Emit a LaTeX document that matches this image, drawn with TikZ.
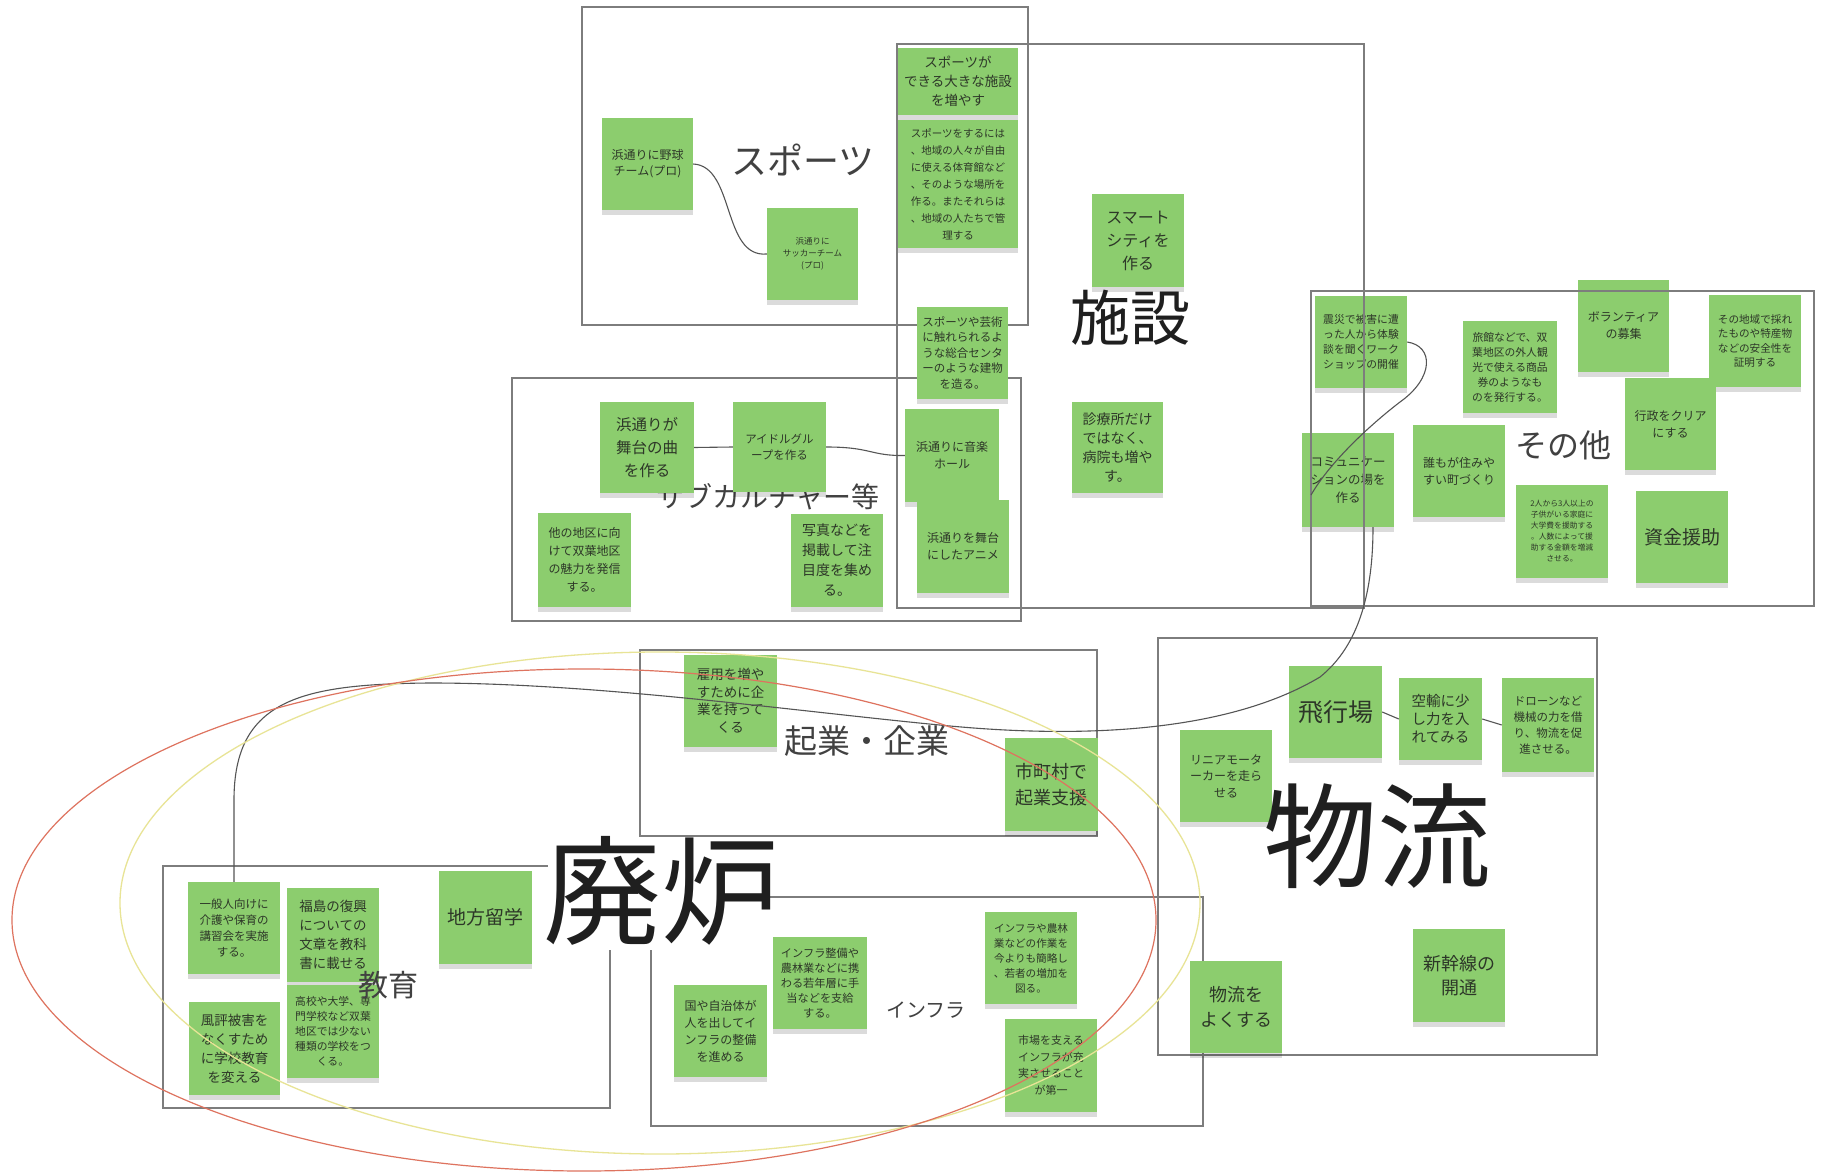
\documentclass[tikz,border=0pt]{standalone}
\usepackage{fontspec}
\setmainfont{Noto Sans CJK JP}
\usetikzlibrary{shadows}
\definecolor{notegreen}{RGB}{140,205,110}
\definecolor{notetext}{RGB}{45,55,40}
\definecolor{framegray}{RGB}{125,125,125}
\definecolor{linkgray}{RGB}{85,85,85}
\definecolor{ellred}{RGB}{222,115,95}
\definecolor{ellyellow}{RGB}{232,228,150}
\definecolor{labelgray}{RGB}{65,65,65}
\newcommand\nfs[2]{\fontsize{#1}{#2}\selectfont}
\begin{document}
\begin{tikzpicture}[x=1pt,y=-1pt,
 note/.style={fill=notegreen, inner sep=0pt, align=center, text=notetext,
   minimum width=92pt, minimum height=92pt,
   drop shadow={shadow xshift=0pt, shadow yshift=-5pt, fill=black, opacity=0.14}},
 frame/.style={draw=framegray, line width=1.3pt},
 link/.style={draw=linkgray, line width=1.1pt},
 lab/.style={inner sep=0pt, text=labelgray},
 biglab/.style={inner sep=0pt, text=black!88},
]
\useasboundingbox[fill=white] (0,0) rectangle (1826,1174);

% frames below notes
\draw[frame] (582,7) rectangle (1028,325);
\draw[frame] (512,378) rectangle (1021,621);
\draw[frame] (640,650) rectangle (1097,836);
\draw[frame] (651,897) rectangle (1203,1126);
\draw[frame] (163,866) rectangle (610,1108);
\draw[frame] (1158,638) rectangle (1597,1055);

% white backing of the big label (hides frame lines behind it)
\fill[white] (548,846) rectangle (770,950);

% label under notes
\node[lab, font=\nfs{28}{32}] (Lsub) at (768,497) {サブカルチャー等};

% ---- sports
\node[note, minimum width=91pt, font=\nfs{12}{16}] (N1) at (647.5,164) {浜通りに野球\\チーム(プロ)};
\node[note, minimum width=91pt, font=\nfs{8.5}{12}] (N2) at (812.5,254) {浜通りに\\サッカーチーム\\(プロ)};
\node[note, minimum width=120pt, minimum height=67pt, font=\nfs{13.5}{19}] (N3) at (958,81.5) {スポーツが\\できる大きな施設\\を増やす};
\node[note, minimum width=120pt, minimum height=128pt, font=\nfs{10.5}{17}] (N4) at (958,184) {スポーツをするには\\、地域の人々が自由\\に使える体育館など\\、そのような場所を\\作る。またそれらは\\、地域の人たちで管\\理する};
\node[note, minimum width=91pt, font=\nfs{11.5}{15.5}] (N5) at (962.5,353) {スポーツや芸術\\に触れられるよ\\うな総合センタ\\ーのような建物\\を造る。};
\node[note, minimum height=93pt, font=\nfs{16}{23}] (N6) at (1138,240.5) {スマート\\シティを\\作る};
\node[note, minimum width=91pt, minimum height=91pt, font=\nfs{14}{19}] (N7) at (1117.5,447.5) {診療所だけ\\ではなく、\\病院も増や\\す。};
% ---- subculture
\node[note, minimum width=94pt, minimum height=91pt, font=\nfs{15.5}{23}] (N8) at (647,447.5) {浜通りが\\舞台の曲\\を作る};
\node[note, minimum width=93pt, minimum height=90pt, font=\nfs{11.5}{16}] (N9) at (779.5,447) {アイドルグル\\ープを作る};
\node[note, minimum width=94pt, minimum height=93pt, font=\nfs{12}{17}] (N10) at (952,455.5) {浜通りに音楽\\ホール};
\node[note, minimum height=93pt, font=\nfs{12}{17}] (N11) at (963,546.5) {浜通りを舞台\\にしたアニメ};
\node[note, minimum width=93pt, minimum height=94pt, font=\nfs{12}{18}] (N12) at (584.5,560) {他の地区に向\\けて双葉地区\\の魅力を発信\\する。};
\node[note, minimum height=93pt, font=\nfs{14}{20}] (N13) at (837,560.5) {写真などを\\掲載して注\\目度を集め\\る。};
% ---- other
\node[note, font=\nfs{10.8}{15}] (N14) at (1361,342) {震災で被害に遭\\った人から体験\\談を聞くワーク\\ショップの開催};
\node[note, minimum width=94pt, font=\nfs{10.8}{15}] (N15) at (1510,367) {旅館などで、双\\葉地区の外人観\\光で使える商品\\券のようなも\\のを発行する。};
\node[note, minimum height=94pt, font=\nfs{12.5}{18}] (N16) at (1348,480) {コミュニケー\\ションの場を\\作る};
\node[note, font=\nfs{12}{17}] (N17) at (1459,471) {誰もが住みや\\すい町づくり};
\node[note, minimum height=93pt, font=\nfs{7.8}{11}] (N18) at (1562,531.5) {2人から3人以上の\\子供がいる家庭に\\大学費を援助する\\。人数によって援\\助する金額を増減\\させる。};
\node[note, minimum width=91pt, font=\nfs{12}{17}] (N19) at (1623.5,326) {ボランティア\\の募集};
\node[note, font=\nfs{10.6}{14.5}] (N20) at (1755,341) {その地域で採れ\\たものや特産物\\などの安全性を\\証明する};
\node[note, minimum width=91pt, font=\nfs{12}{17}] (N21) at (1670.5,424) {行政をクリア\\にする};
\node[note, font=\nfs{19}{22}] (N22) at (1682,537) {資金援助};
% ---- enterprise
\node[note, minimum width=93pt, font=\nfs{13.5}{17.5}] (N23) at (730.5,701) {雇用を増や\\すために企\\業を持って\\くる};
\node[note, minimum width=93pt, minimum height=93pt, font=\nfs{18}{26}] (N24) at (1051.5,784.5) {市町村で\\起業支援};
% ---- logistics
\node[note, font=\nfs{12}{16.5}] (N25) at (1226,776) {リニアモータ\\ーカーを走ら\\せる};
\node[note, minimum width=93pt, font=\nfs{25}{28}] (N26) at (1335.5,712) {飛行場};
\node[note, minimum width=83pt, minimum height=82pt, font=\nfs{14.5}{18}] (N27) at (1440.5,719) {空輸に少\\し力を入\\れてみる};
\node[note, minimum height=94pt, font=\nfs{11.5}{16}] (N28) at (1548,725) {ドローンなど\\機械の力を借\\り、物流を促\\進させる。};
\node[note, font=\nfs{18}{25}] (N29) at (1236,1007) {物流を\\よくする};
\node[note, minimum height=93pt, font=\nfs{18}{24}] (N30) at (1459,975.5) {新幹線の\\開通};
% ---- education
\node[note, font=\nfs{11.5}{16}] (N31) at (234,928) {一般人向けに\\介護や保育の\\講習会を実施\\する。};
\node[note, minimum height=94pt, font=\nfs{13.5}{19}] (N32) at (333,935) {福島の復興\\についての\\文章を教科\\書に載せる};
\node[note, minimum width=93pt, minimum height=93pt, font=\nfs{19}{22}] (N33) at (485.5,917.5) {地方留学};
\node[note, minimum width=91pt, minimum height=93pt, font=\nfs{13.5}{19}] (N34) at (234.5,1048.5) {風評被害を\\なくすため\\に学校教育\\を変える};
\node[note, minimum height=93pt, font=\nfs{10.8}{15}] (N35) at (333,1031.5) {高校や大学、専\\門学校など双葉\\地区では少ない\\種類の学校をつ\\くる。};
% ---- infrastructure
\node[note, minimum width=93pt, font=\nfs{12}{17}] (N36) at (720.5,1031) {国や自治体が\\人を出してイ\\ンフラの整備\\を進める};
\node[note, minimum width=94pt, font=\nfs{11.2}{15}] (N37) at (820,983) {インフラ整備や\\農林業などに携\\わる若年層に手\\当などを支給\\する。};
\node[note, font=\nfs{10.6}{15}] (N38) at (1031,958) {インフラや農林\\業などの作業を\\今よりも簡略し\\、若者の増加を\\図る。};
\node[note, minimum height=93pt, font=\nfs{11}{16.5}] (N39) at (1051,1065.5) {市場を支える\\インフラが充\\実させること\\が第一};

% frames drawn above notes
\draw[frame] (897,44) rectangle (1364,608);
\draw[frame] (1311,291) rectangle (1814,606);

% connectors
\draw[link] (N1.east) .. controls (735,166) and (722,258) .. (N2.west);
\draw[link] (N8.east) -- (N9.west);
\draw[link] (N9.east) .. controls (872,447) and (870,456) .. (N10.west);
\draw[link] (N26.east) -- (N27.west);
\draw[link] (N27.east) -- (N28.west);
\draw[link] (N14.east) .. controls (1434,346) and (1434,378) .. (1400,402)
   .. controls (1370,425) and (1330,462) .. ([xshift=-37pt,yshift=-15pt]N16.center);
\draw[link] (N31.north) -- (234,800) .. controls (234,700) and (300,684) .. (430,683)
   .. controls (600,683) and (800,712) .. (950,726)
   .. controls (1100,740) and (1235,728) .. (1320,677)
   .. controls (1360,645) and (1373,590) .. ([xshift=25pt]N16.south);

% labels
\node[lab, font=\nfs{36}{40}] (Lsports) at (803,160) {スポーツ};
\node[biglab, font=\nfs{60}{64}] (Lfac) at (1130,318) {施設};
\node[lab, font=\nfs{32}{36}] (Lother) at (1563,445) {その他};
\node[lab, font=\nfs{33}{36}] (Lent) at (867,741) {起業・企業};
\node[biglab, font=\nfs{114}{120}] (Llog) at (1377,836) {物流};
\node[lab, font=\nfs{30}{34}] (Ledu) at (388,985) {教育};
\node[lab, font=\nfs{20}{24}] (Linf) at (926,1010) {インフラ};
\node[biglab, font=\nfs{118}{124}] (Ldecom) at (661,891) {廃炉};

% ellipses
\draw[ellyellow, line width=1.3pt] (660,903) ellipse [x radius=540pt, y radius=251pt];
\draw[ellred, line width=1.2pt] (584,920) ellipse [x radius=572pt, y radius=251pt];
\end{tikzpicture}
\end{document}
